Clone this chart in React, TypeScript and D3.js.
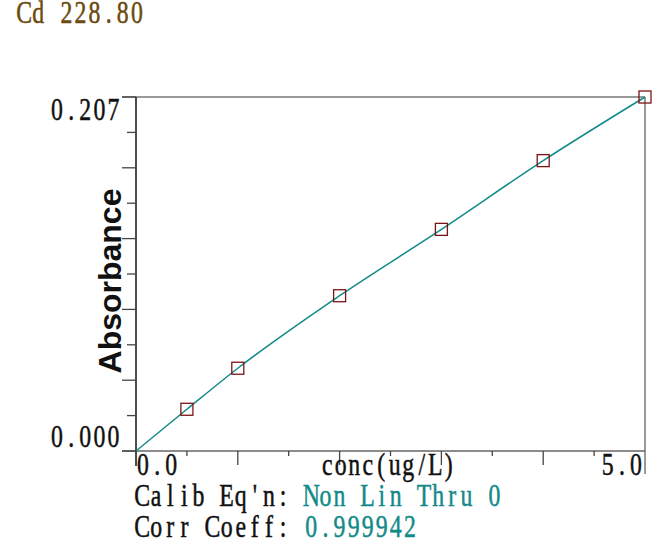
import { useEffect, useRef } from "react";
import * as d3 from "d3";

// calibration standards
const conc = [0.5, 1, 2, 3, 4, 5];
const absorbance = [0.0244, 0.0484, 0.0908, 0.1296, 0.1698, 0.207];
// fitted curve passes through origin
const curveConc = [0, 0.5, 1, 2, 3, 4, 5];
const curveAbs = [0, 0.0244, 0.0484, 0.0908, 0.1296, 0.1698, 0.207];

const xMajor = [0, 1, 2, 3, 4, 5];
const xMinor = [0.5, 1.5, 2.5, 3.5, 4.5];
const yMajor = [0, 0.0414, 0.0828, 0.1242, 0.1656, 0.207];
const yMinor = [0.0207, 0.0621, 0.1035, 0.1449, 0.1863];

const title = "Cd 228.80";
const xTitle = "conc(ug/L)";
const yTitle = "Absorbance";
const eqLabel = "Calib Eq'n: ";
const eqValue = "Non Lin Thru 0";
const ccLabel = "Corr Coeff: ";
const ccValue = "0.999942";

const W = 660;
const H = 545;
const CH = 14.1; // width per character, the instrument font is fixed pitch
const FONT = "'Liberation Serif', 'DejaVu Serif', serif";
const SX = 0.85;
const SY = 1.12;
const TEAL = "#138a8a";

export default function App() {
  const ref = useRef<SVGSVGElement>(null);

  useEffect(() => {
    if (!ref.current) return;
    const svg = d3.select(ref.current);
    svg.selectAll("*").remove();

    const x = d3.scaleLinear().domain([0, 5]).range([136, 645]);
    const y = d3.scaleLinear().domain([0, 0.207]).range([451, 97]);

    // fixed pitch text: each character centred in its cell, glyphs condensed
    const txt = (s: string, left: number, ty: number, color: string, pitch = CH) =>
      svg
        .append("g")
        .attr("transform", `translate(${left},${ty}) scale(${SX},${SY})`)
        .append("text")
        .attr("x", Array.from(s).map((_, i) => (((i + 0.5) * pitch) / SX).toFixed(1)).join(" "))
        .attr("y", 0)
        .attr("text-anchor", "middle")
        .attr("fill", color)
        .attr("stroke", color)
        .attr("stroke-width", 0.45)
        .attr("font-family", FONT)
        .attr("font-size", 28)
        .attr("xml:space", "preserve")
        .text(s);

    // frame
    svg.append("line").attr("x1", 122).attr("x2", x(5)).attr("y1", y(0.207)).attr("y2", y(0.207))
      .attr("stroke", "#777").attr("stroke-width", 1.5);
    svg.append("line").attr("x1", x(5)).attr("x2", x(5)).attr("y1", y(0.207)).attr("y2", 474)
      .attr("stroke", "#777").attr("stroke-width", 1.5);
    svg.append("line").attr("x1", 122).attr("x2", x(5)).attr("y1", y(0)).attr("y2", y(0))
      .attr("stroke", "#666").attr("stroke-width", 1.5);
    svg.append("line").attr("x1", x(0)).attr("x2", x(0)).attr("y1", y(0.207)).attr("y2", 466)
      .attr("stroke", "#111").attr("stroke-width", 1.5);

    // y ticks
    svg.append("g").selectAll("line").data(yMajor).join("line")
      .attr("x1", 122).attr("x2", x(0)).attr("y1", (d) => y(d)).attr("y2", (d) => y(d))
      .attr("stroke", "#444").attr("stroke-width", 1.3);
    svg.append("g").selectAll("line").data(yMinor).join("line")
      .attr("x1", 127).attr("x2", x(0)).attr("y1", (d) => y(d)).attr("y2", (d) => y(d))
      .attr("stroke", "#444").attr("stroke-width", 1.3);

    // x ticks
    svg.append("g").selectAll("line").data(xMajor.slice(1, 5)).join("line")
      .attr("x1", (d) => x(d)).attr("x2", (d) => x(d)).attr("y1", y(0)).attr("y2", 465)
      .attr("stroke", "#444").attr("stroke-width", 1.3);
    svg.append("g").selectAll("line").data(xMinor).join("line")
      .attr("x1", (d) => x(d)).attr("x2", (d) => x(d)).attr("y1", y(0)).attr("y2", 456)
      .attr("stroke", "#444").attr("stroke-width", 1.3);

    // curve
    const line = d3.line<number>()
      .x((d) => x(d))
      .y((_, i) => y(curveAbs[i]))
      .curve(d3.curveMonotoneX);
    svg.append("path").attr("d", line(curveConc)).attr("fill", "none")
      .attr("stroke", TEAL).attr("stroke-width", 1.5);

    // standards
    svg.append("g").selectAll("rect").data(conc).join("rect")
      .attr("x", (d) => x(d) - 6).attr("y", (_, i) => y(absorbance[i]) - 6)
      .attr("width", 12).attr("height", 12)
      .attr("fill", "none").attr("stroke", "#7a1414").attr("stroke-width", 1.3);

    // labels
    txt(title, 17, 23, "#6b4a10");
    txt("0.207", 50, 120, "#111");
    txt("0.000", 50, 447, "#111");
    txt("0.0", 136, 475, "#111");
    txt("5.0", 643 - 3 * CH, 475, "#111");
    txt(xTitle, 388 - (xTitle.length * 13.5) / 2, 475, "#111", 13.5);
    txt(eqLabel, 135, 506, "#111");
    txt(eqValue, 135 + eqLabel.length * CH, 506, TEAL);
    txt(ccLabel, 135, 537, "#111");
    txt(ccValue, 135 + ccLabel.length * CH, 537, TEAL);

    svg.append("text")
      .attr("transform", `translate(121,281) rotate(-90)`)
      .attr("text-anchor", "middle")
      .attr("font-family", "'Liberation Sans', Arial, sans-serif")
      .attr("font-weight", "bold")
      .attr("font-size", 32)
      .attr("fill", "#111")
      .text(yTitle);
  }, []);

  return (
    <svg
      ref={ref}
      width={W}
      height={H}
      viewBox={`0 0 ${W} ${H}`}
      style={{ position: "fixed", left: 0, top: 0, background: "#fff" }}
    />
  );
}
